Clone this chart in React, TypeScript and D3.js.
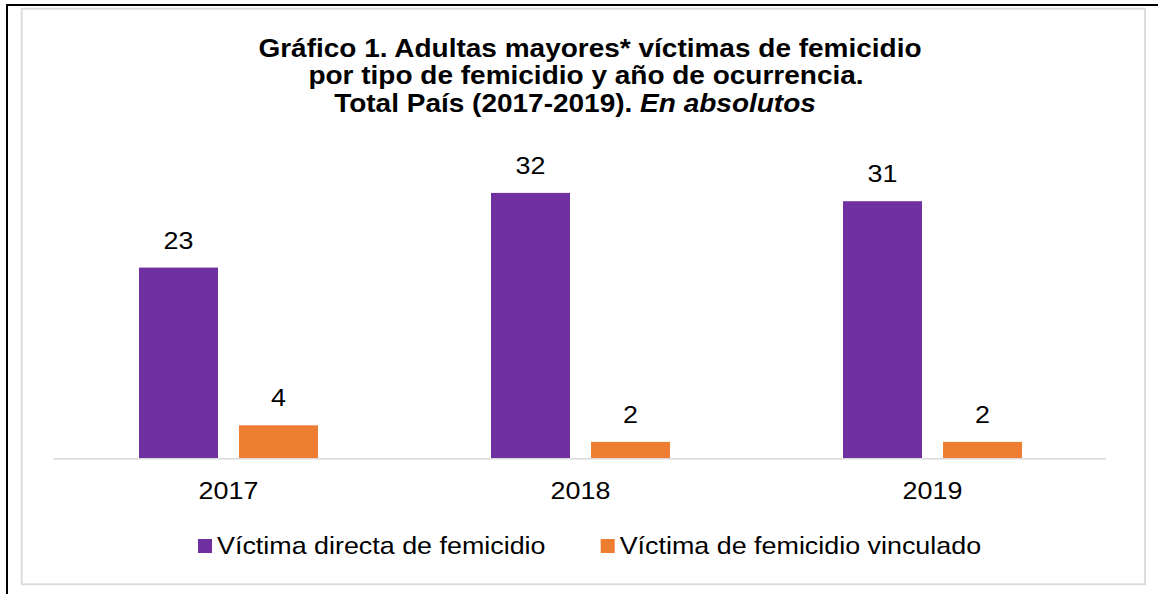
import React from "react";
import * as d3 from "d3";

const categories = ["2017", "2018", "2019"];
const seriesNames = ["Víctima directa de femicidio", "Víctima de femicidio vinculado"];
const directa = [23, 32, 31];
const vinculado = [4, 2, 2];
const colors = ["#7030A0", "#ED7D31"];
const titleLines = [
  "Gráfico 1. Adultas mayores* víctimas de femicidio",
  "por tipo de femicidio y año de ocurrencia.",
];
const titleLine3Bold = "Total País (2017-2019). ";
const titleLine3Italic = "En absolutos";

const W = 1158;
const H = 594;
const SX = 1.12;
const FONT = "'Liberation Sans', Arial, Helvetica, sans-serif";

export default function App() {
  const values = [directa, vinculado];
  const x0 = d3.scaleBand<string>().domain(categories).range([52.5, 1108.5]).paddingInner(0).paddingOuter(0);
  const x1 = d3
    .scaleBand<string>()
    .domain(seriesNames)
    .range([0, x0.bandwidth()])
    .paddingInner(0.21)
    .paddingOuter(0.865);
  const y = d3.scaleLinear().domain([0, 35]).range([458.5, 168]);

  const txt = (x: number, yy: number, s: React.ReactNode, extra: any = {}) => (
    <text
      transform={`translate(${x},${yy}) scale(${SX},1)`}
      textAnchor="middle"
      fontFamily={FONT}
      fontSize={24}
      fill="#000"
      {...extra}
    >
      {s}
    </text>
  );

  return (
    <svg width={W} height={H} style={{ position: "absolute", left: 0, top: 0, background: "#fff" }}>
      <rect x={0} y={0} width={W} height={H} fill="#fff" />
      {/* outer black frame lines */}
      <line x1={6} y1={5} x2={W} y2={5} stroke="#000" strokeWidth={2} />
      <line x1={7} y1={4} x2={7} y2={H} stroke="#000" strokeWidth={2} />
      {/* chart area border */}
      <rect x={21.7} y={8.7} width={1145 - 21.7} height={584.3 - 8.7} fill="#fff" stroke="#d9d9d9" strokeWidth={1.8} />

      {/* title */}
      <g>
        {txt(590, 57, titleLines[0], { fontWeight: "bold", fontSize: 25 })}
        {txt(586, 84, titleLines[1], { fontWeight: "bold", fontSize: 25 })}
        {txt(
          575,
          112,
          <>
            <tspan>{titleLine3Bold}</tspan>
            <tspan fontStyle="italic">{titleLine3Italic}</tspan>
          </>,
          { fontWeight: "bold", fontSize: 25 }
        )}
      </g>

      {/* bars */}
      {categories.map((c, i) => (
        <g key={c} transform={`translate(${x0(c)},0)`}>
          {seriesNames.map((s, j) => {
            const v = values[j][i];
            const bx = x1(s)!;
            const bw = x1.bandwidth();
            return (
              <g key={s}>
                <rect x={bx} y={y(v)} width={bw} height={y(0) - y(v)} fill={colors[j]} />
                {txt(bx + bw / 2, y(v) - 19, String(v))}
              </g>
            );
          })}
        </g>
      ))}

      {/* axis line */}
      <line x1={53} y1={458.8} x2={1106} y2={458.8} stroke="#d9d9d9" strokeWidth={1.5} />

      {/* category labels */}
      {categories.map((c) => (
        <React.Fragment key={"l" + c}>{txt(x0(c)! + x0.bandwidth() / 2, 499, c)}</React.Fragment>
      ))}

      {/* legend */}
      {seriesNames.map((s, j) => {
        const lx = j === 0 ? 198 : 600.7;
        return (
          <g key={s}>
            <rect x={lx} y={539} width={14} height={14} fill={colors[j]} />
            <text
              transform={`translate(${lx + 19},554) scale(${SX},1)`}
              fontFamily={FONT}
              fontSize={24}
              fill="#000"
            >
              {s}
            </text>
          </g>
        );
      })}
    </svg>
  );
}
